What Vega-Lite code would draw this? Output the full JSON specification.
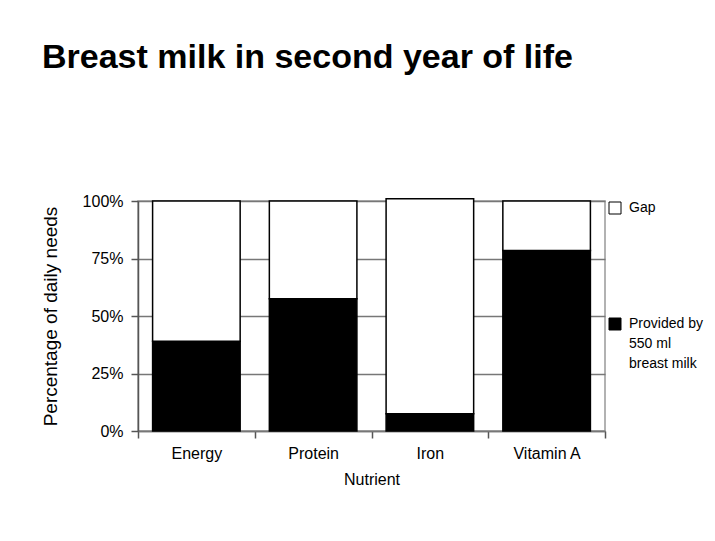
{
  "$schema": "https://vega.github.io/schema/vega-lite/v6.json",
  "width": 467,
  "height": 230,
  "autosize": "none",
  "padding": {"left": 138, "top": 201, "right": 110, "bottom": 110},
  "background": "white",
  "title": {
    "text": "Breast milk in second year of life",
    "anchor": "start",
    "frame": "group",
    "font": "Liberation Sans",
    "fontSize": 34,
    "fontWeight": "bold",
    "color": "black",
    "baseline": "alphabetic",
    "offset": 91,
    "dx": -96
  },
  "data": {
    "values": [
      {"nutrient": "Energy", "part": "Provided", "value": 39},
      {"nutrient": "Energy", "part": "Gap", "value": 61},
      {"nutrient": "Protein", "part": "Provided", "value": 57.5},
      {"nutrient": "Protein", "part": "Gap", "value": 42.5},
      {"nutrient": "Iron", "part": "Provided", "value": 7.5},
      {"nutrient": "Iron", "part": "Gap", "value": 93.5},
      {"nutrient": "Vitamin A", "part": "Provided", "value": 78.5},
      {"nutrient": "Vitamin A", "part": "Gap", "value": 21.5}
    ]
  },
  "mark": {"type": "bar", "stroke": "black", "strokeWidth": 1.5, "width": {"band": 0.75}},
  "encoding": {
    "x": {
      "field": "nutrient",
      "type": "nominal",
      "sort": ["Energy", "Protein", "Iron", "Vitamin A"],
      "scale": {"paddingInner": 0, "paddingOuter": 0},
      "axis": {
        "title": "Nutrient",
        "labelAngle": 0,
        "tickBand": "extent",
        "tickSize": 7,
        "tickColor": "#555",
        "tickWidth": 1.5,
        "domainColor": "#777",
        "domainWidth": 1.5,
        "labelPadding": 7,
        "titlePadding": 10,
        "grid": false
      }
    },
    "y": {
      "field": "value",
      "type": "quantitative",
      "stack": "zero",
      "scale": {"domain": [0, 100], "nice": false},
      "axis": {
        "title": "Percentage of daily needs",
        "values": [0, 25, 50, 75, 100],
        "labelExpr": "datum.value + '%'",
        "tickSize": 7,
        "tickColor": "#555",
        "tickWidth": 1.5,
        "domainColor": "#555",
        "domainWidth": 1.5,
        "labelPadding": 8,
        "titlePadding": 22,
        "titleFontSize": 19,
        "grid": true,
        "gridColor": "#777",
        "gridWidth": 1.5
      }
    },
    "color": {
      "field": "part",
      "type": "nominal",
      "scale": {"domain": ["Gap", "Provided"], "range": ["white", "black"]},
      "legend": {
        "orient": "none",
        "legendX": 470,
        "legendY": 0,
        "title": null,
        "symbolType": "square",
        "symbolSize": 144,
        "symbolStrokeColor": "black",
        "symbolStrokeWidth": 1,
        "symbolOpacity": 1,
        "labelFont": "Liberation Sans",
        "labelFontSize": 14,
        "labelColor": "black",
        "labelOffset": 7,
        "rowPadding": 100,
        "labelExpr": "datum.label == 'Gap' ? 'Gap' : ['Provided by', '550 ml', 'breast milk']"
      }
    },
    "order": {"field": "part", "sort": "descending"}
  },
  "config": {
    "view": {"stroke": "#999", "strokeWidth": 1.5},
    "axis": {
      "labelFont": "Liberation Sans",
      "labelFontSize": 16,
      "labelColor": "black",
      "titleFont": "Liberation Sans",
      "titleFontSize": 16,
      "titleFontWeight": "normal",
      "titleColor": "black"
    },
    "style": {"guide-label": {"lineHeight": 20}}
  }
}
